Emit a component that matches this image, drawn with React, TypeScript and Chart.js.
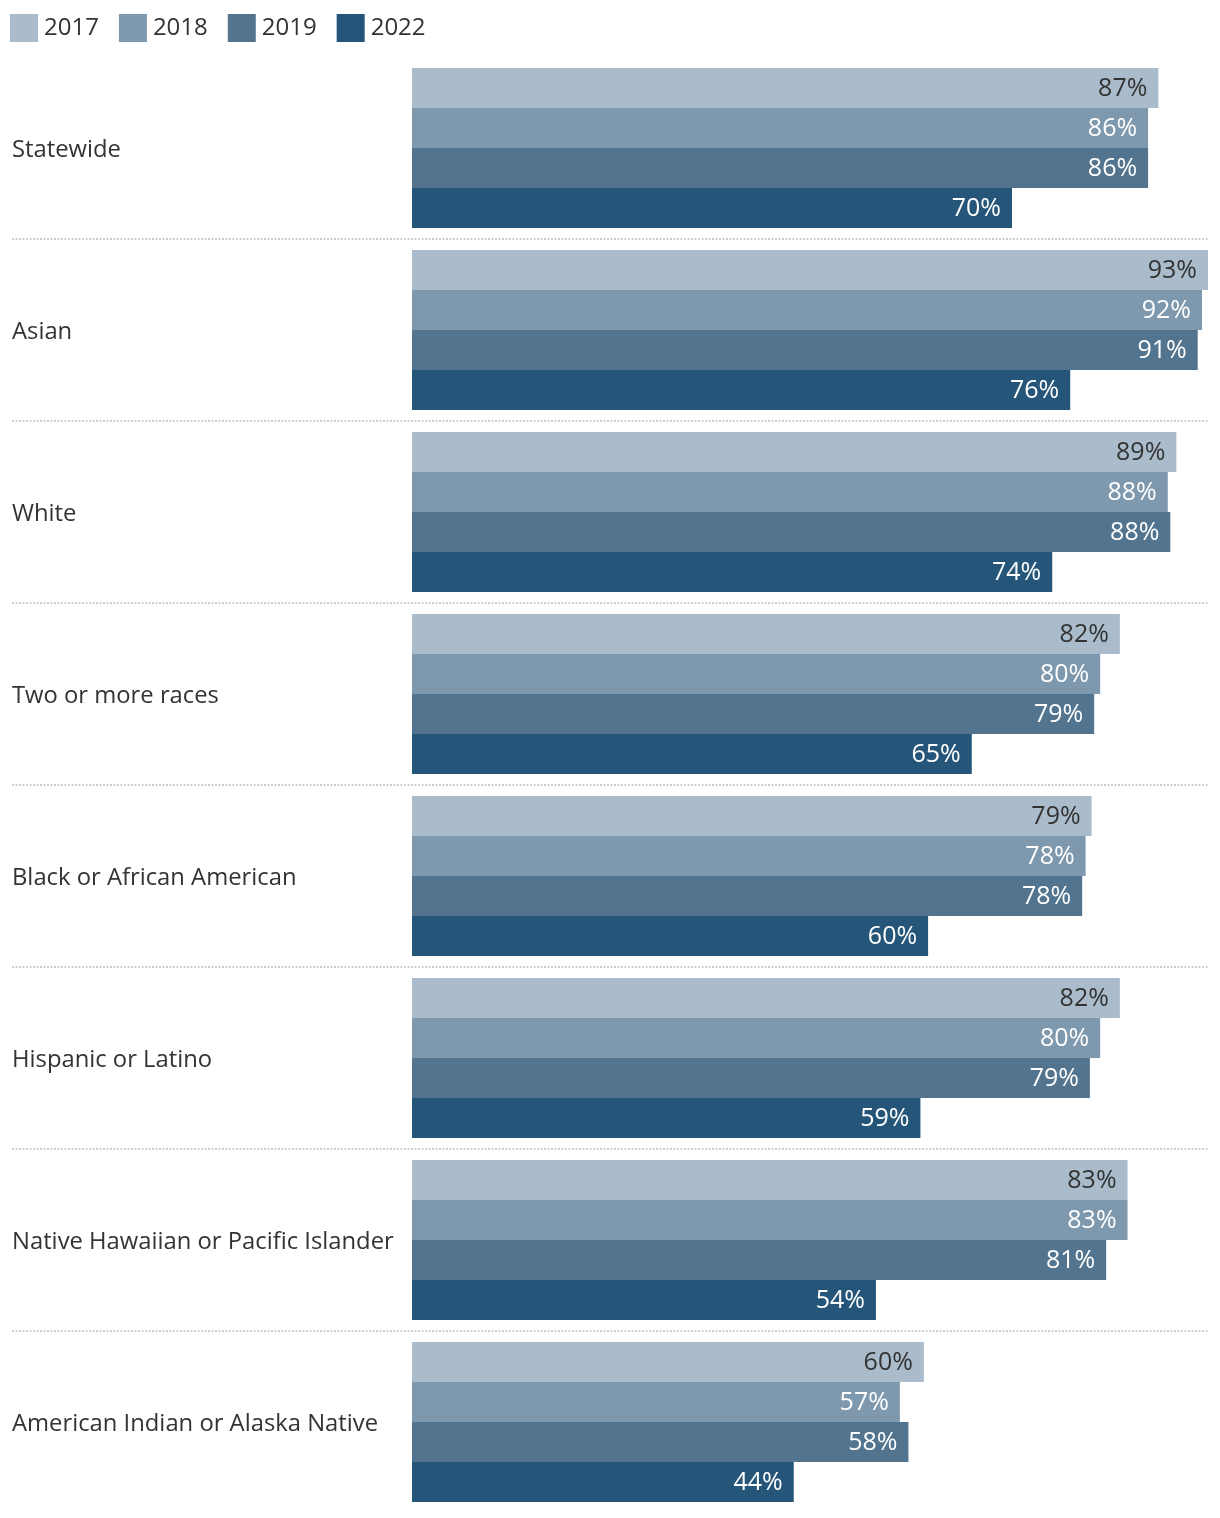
import React, { useEffect, useRef } from "react";
import { Chart, registerables } from "chart.js";

Chart.register(...registerables);

const categories = [
  "Statewide",
  "Asian",
  "White",
  "Two or more races",
  "Black or African American",
  "Hispanic or Latino",
  "Native Hawaiian or Pacific Islander",
  "American Indian or Alaska Native",
];

const years = ["2017", "2018", "2019", "2022"];

// bar lengths (percent)
const values2017 = [87.2, 93.0, 89.3, 82.7, 79.4, 82.7, 83.6, 59.8];
const values2018 = [86.0, 92.3, 88.3, 80.4, 78.7, 80.4, 83.6, 57.0];
const values2019 = [86.0, 91.8, 88.6, 79.7, 78.3, 79.2, 81.1, 58.0];
const values2022 = [70.1, 76.9, 74.8, 65.4, 60.3, 59.4, 54.2, 44.6];

// printed labels
const labels2017 = [87, 93, 89, 82, 79, 82, 83, 60];
const labels2018 = [86, 92, 88, 80, 78, 80, 83, 57];
const labels2019 = [86, 91, 88, 79, 78, 79, 81, 58];
const labels2022 = [70, 76, 74, 65, 60, 59, 54, 44];

const seriesValues = [values2017, values2018, values2019, values2022];
const seriesLabels = [labels2017, labels2018, labels2019, labels2022];
const colors = ["#aabccb", "#7e98ad", "#52748e", "#255679"];
const labelColors = ["#333333", "#ffffff", "#ffffff", "#ffffff"];

const FONT = "'Open Sans', sans-serif";

export default function App() {
  const ref = useRef<HTMLCanvasElement | null>(null);

  useEffect(() => {
    document.body.style.margin = "0";
    const canvas = ref.current;
    if (!canvas) return;

    const decor = {
      id: "decor",
      beforeDatasetsDraw(chart: any) {
        const ctx = chart.ctx;
        const y = chart.scales.y;
        const area = chart.chartArea;
        ctx.save();
        ctx.strokeStyle = "#cfcfcf";
        ctx.lineWidth = 2;
        ctx.setLineDash([2, 1.5]);
        for (let i = 1; i < categories.length; i++) {
          const py = Math.round((y.getPixelForValue(i - 1) + y.getPixelForValue(i)) / 2);
          ctx.beginPath();
          ctx.moveTo(12, py);
          ctx.lineTo(area.right, py);
          ctx.stroke();
        }
        ctx.setLineDash([]);
        ctx.fillStyle = "#333333";
        ctx.font = `23.8px ${FONT}`;
        ctx.textAlign = "left";
        ctx.textBaseline = "middle";
        categories.forEach((c, i) => {
          ctx.fillText(c, 12, y.getPixelForValue(i) + 2);
        });
        // legend
        let x = 10;
        ctx.font = `24px ${FONT}`;
        years.forEach((yr, i) => {
          ctx.fillStyle = colors[i];
          ctx.fillRect(x, 14, 28, 28);
          ctx.fillStyle = "#333333";
          ctx.fillText(yr, x + 34, 28);
          x = x + 34 + ctx.measureText(yr).width + 20;
        });
        ctx.restore();
      },
      afterDatasetsDraw(chart: any) {
        const ctx = chart.ctx;
        ctx.save();
        ctx.font = `25px ${FONT}`;
        ctx.textAlign = "right";
        ctx.textBaseline = "middle";
        chart.data.datasets.forEach((ds: any, di: number) => {
          const meta = chart.getDatasetMeta(di);
          meta.data.forEach((bar: any, i: number) => {
            ctx.fillStyle = labelColors[di];
            ctx.fillText(`${seriesLabels[di][i]}%`, bar.x - 11, bar.y + 1);
          });
        });
        ctx.restore();
      },
    };

    const chart = new Chart(canvas, {
      type: "bar",
      data: {
        labels: categories,
        datasets: years.map((yr, i) => ({
          label: yr,
          data: seriesValues[i],
          backgroundColor: colors[i],
          borderWidth: 0,
          categoryPercentage: 160 / 182,
          barPercentage: 1,
        })),
      },
      options: {
        indexAxis: "y",
        animation: false,
        responsive: false,
        devicePixelRatio: 1,
        layout: { padding: { left: 412, right: 12, top: 57, bottom: 5 } },
        plugins: { legend: { display: false }, tooltip: { enabled: false } },
        scales: {
          x: { min: 0, max: 93, display: false },
          y: { display: false },
        },
      },
      plugins: [decor],
    });
    return () => chart.destroy();
  }, []);

  return <canvas ref={ref} width={1220} height={1518} style={{ display: "block" }} />;
}
